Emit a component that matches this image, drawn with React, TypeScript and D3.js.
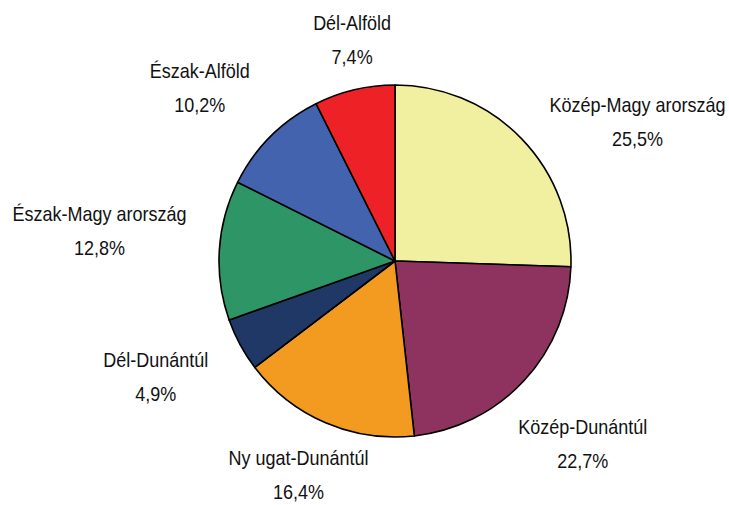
import React from "react";
import * as d3 from "d3";

// regional shares (%), clockwise from 12 o'clock
const regions = [
  "Közép-Magy arország",
  "Közép-Dunántúl",
  "Ny ugat-Dunántúl",
  "Dél-Dunántúl",
  "Észak-Magy arország",
  "Észak-Alföld",
  "Dél-Alföld",
];
const shares = [25.5, 22.7, 16.4, 4.9, 12.8, 10.2, 7.4];
const sliceColors = ["#F1EFA0", "#8E3360", "#F39A21", "#1F3866", "#2E9566", "#4463AE", "#EE2226"];

// small hand tweaks of label placement (Excel-like "outside" labels)
const labelNudge: [number, number][] = [
  [34, 17],
  [-25, 30],
  [18, 7],
  [16, 9],
  [-6, -16],
  [10, -14],
  [24, -2],
];

const W = 729;
const H = 505;
const cx = 395;
const cy = 261;
const radius = 176;

export default function App() {
  const pie = d3.pie<number>().sort(null).value((d) => d);
  const arcs = pie(shares);
  const arcGen = d3.arc<d3.PieArcDatum<number>>().innerRadius(0).outerRadius(radius);
  const fmt = (v: number) => d3.format(".1f")(v).replace(".", ",") + "%";

  // labels sit on an ellipse around the pie
  const rx = 290;
  const ry = 225;

  return (
    <svg
      width={W}
      height={H}
      style={{ position: "absolute", left: 0, top: 0, background: "#fff" }}
      fontFamily="'Liberation Sans', Arial, sans-serif"
    >
      <g transform={`translate(${cx},${cy})`}>
        {arcs.map((a, i) => (
          <path
            key={regions[i]}
            d={arcGen(a) || ""}
            fill={sliceColors[i]}
            stroke="#000"
            strokeWidth={1.6}
            strokeLinejoin="round"
          />
        ))}
        {arcs.map((a, i) => {
          const mid = (a.startAngle + a.endAngle) / 2;
          const x = Math.sin(mid) * rx + labelNudge[i][0];
          const y = -Math.cos(mid) * ry + labelNudge[i][1];
          return (
            <g key={"l" + i} transform={`translate(${x},${y}) scale(0.9,1)`} fontSize={20} fill="#111" textAnchor="middle">
              <text y={-10}>{regions[i]}</text>
              <text y={24}>{fmt(shares[i])}</text>
            </g>
          );
        })}
      </g>
    </svg>
  );
}
